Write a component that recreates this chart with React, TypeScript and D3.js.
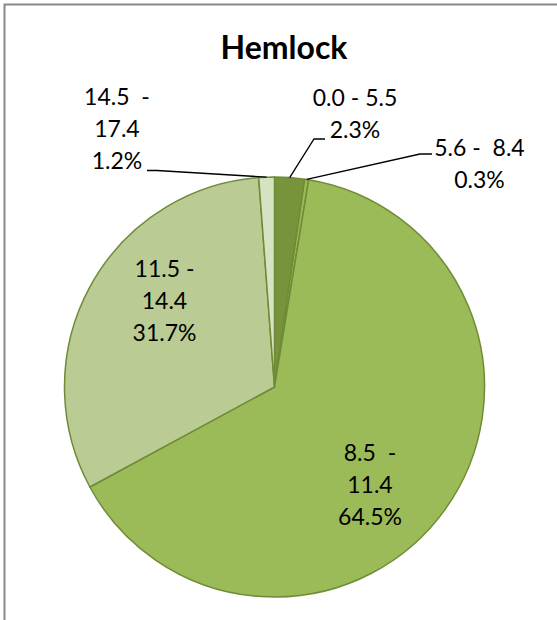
import React from "react";
import * as d3 from "d3";

const categories = ["0.0 - 5.5", "5.6 -  8.4", "8.5  - 11.4", "11.5 - 14.4", "14.5  - 17.4"];
const values = [2.3, 0.3, 64.5, 31.7, 1.2];
const labelLines = [
  ["0.0 - 5.5", "2.3%"],
  ["5.6 -  8.4", "0.3%"],
  ["8.5  -", "11.4", "64.5%"],
  ["11.5 -", "14.4", "31.7%"],
  ["14.5  -", "17.4", "1.2%"],
];
const title = "Hemlock";

const colors = ["#77933C", "#9BBB59", "#9BBB59", "#BACC94", "#D6E2C2"];

// layout (positions of labels, not data)
const W = 557, H = 620;
const cx = 274.5, cy = 387, R = 210;
const labelLayout = [
  { x: 355, y: 106, leader: [[325, 139], [314, 139]] },
  { x: 479.5, y: 156, leader: [[432, 154], [420, 154]] },
  { x: 370, y: 461, leader: null },
  { x: 164.5, y: 277, leader: null },
  { x: 117, y: 105, leader: [[147, 170.5], [157, 170.5]] },
];
const lineH = 32;

export default function App() {
  const pie = d3.pie<number>().sort(null).value((d) => d);
  const arcs = pie(values);
  const arc = d3.arc<d3.PieArcDatum<number>>().innerRadius(0).outerRadius(R);
  const edge = d3.arc<d3.PieArcDatum<number>>().innerRadius(R).outerRadius(R);
  const font = "Lato, 'Open Sans', sans-serif";
  return (
    <svg width={W} height={H} style={{ position: "absolute", left: 0, top: 0, background: "#fff" }}>
      <rect x={4.5} y={4.5} width={W + 20} height={H + 20} fill="#fff" stroke="#888" strokeWidth={2} />
      <text x={284} y={59} textAnchor="middle" fontFamily={font} fontWeight={700} fontSize={32} fill="#000">
        {title}
      </text>
      <g transform={`translate(${cx},${cy})`}>
        {arcs.map((a, i) => (
          <path key={categories[i]} d={arc(a) || ""} fill={colors[i]} stroke="#6F8B35" strokeWidth={1.5} strokeLinejoin="round" />
        ))}
      </g>
      {arcs.map((a, i) => {
        const L = labelLayout[i];
        if (!L.leader) return null;
        const [ex, ey] = edge.centroid(a);
        const pts = [...L.leader, [cx + ex, cy + ey]];
        return (
          <polyline key={"l" + i} points={pts.map((p) => p.join(",")).join(" ")} fill="none" stroke="#000" strokeWidth={1.3} />
        );
      })}
      {labelLines.map((lines, i) => (
        <text key={"t" + i} textAnchor="middle" fontFamily={font} fontSize={23} fill="#000">
          {lines.map((s, j) => (
            <tspan key={j} x={labelLayout[i].x} y={labelLayout[i].y + j * lineH} style={{ whiteSpace: "pre" }}>
              {s}
            </tspan>
          ))}
        </text>
      ))}
    </svg>
  );
}
